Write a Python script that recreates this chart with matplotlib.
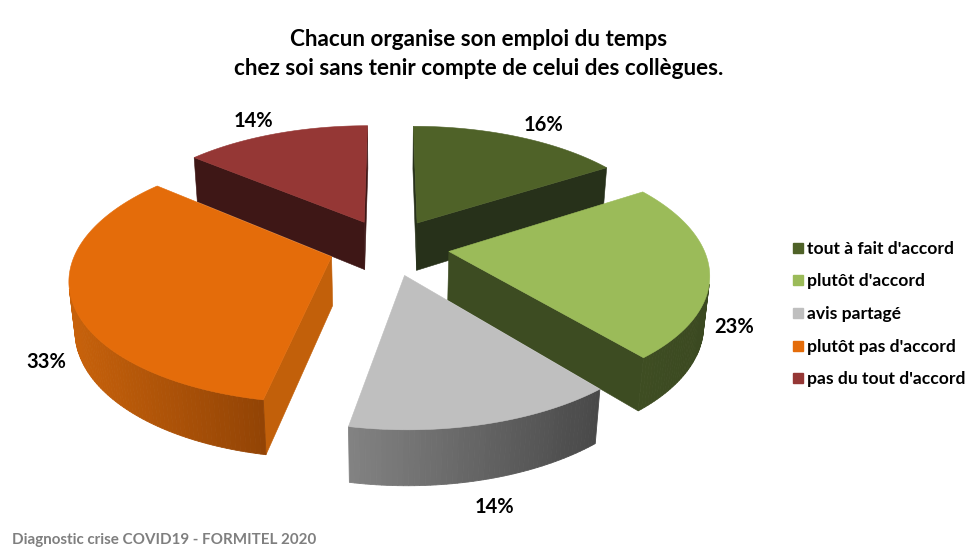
import numpy as np
import matplotlib.pyplot as plt
from matplotlib.patches import Polygon
from matplotlib.lines import Line2D

plt.rcParams['font.family'] = ['Lato', 'DejaVu Sans']

# données
categories = ["tout à fait d'accord", "plutôt d'accord", "avis partagé",
              "plutôt pas d'accord", "pas du tout d'accord"]
values = [16, 23, 14, 33, 14]
title_lines = ["Chacun organise son emploi du temps",
               "chez soi sans tenir compte de celui des collègues."]
source = "Diagnostic crise COVID19 - FORMITEL 2020"

# styles
top_colors = ["#4F6228", "#9BBB59", "#BFBFBF", "#E46C0A", "#953735"]
side_colors = ["#27311A", "#3D4C22", "#5E5E5E", "#C2600A", "#3E1716"]
wall_left = ["#27311A", "#3E4D22", "#828282", "#C8620B", "#3E1716"]
wall_right = ["#27311A", "#3B4921", "#494949", "#934405", "#3E1716"]

# vue 3D (camera) en pixels
tilt = np.radians(28.0)
D, F = 5.5, 1398.0
cx, cy = 389.0, 247.0
explode, h = 0.237, 0.22
cam = np.array([0.0, -D * np.cos(tilt), D * np.sin(tilt)])


def project(X, Y, Z):
    depth = D + Y * np.cos(tilt) - Z * np.sin(tilt)
    sx = cx + F * X / depth
    sy = cy - F * (Y * np.sin(tilt) + Z * np.cos(tilt)) / depth
    return sx, sy


def visible(normal, point):
    return np.dot(normal, cam - point) > 0


def mix(c1, c2, t):
    a = np.array(plt.matplotlib.colors.to_rgb(c1))
    b = np.array(plt.matplotlib.colors.to_rgb(c2))
    return tuple(a + (b - a) * t)


fig = plt.figure(figsize=(9.73, 5.54), dpi=100)
ax = fig.add_axes([0, 0, 1, 1])
ax.set_xlim(0, 973)
ax.set_ylim(554, 0)
ax.axis('off')

total = float(sum(values))
cum = np.concatenate([[0], np.cumsum(values)]) / total
starts = np.radians(90 - 360 * cum[:-1])
ends = np.radians(90 - 360 * cum[1:])
mids = (starts + ends) / 2

# ordre de dessin : du fond vers l'avant
ordre = np.argsort(-np.sin(mids))

for i in ordre:
    a0, a1 = ends[i], starts[i]   # a0 < a1 (sens trigo)
    ox, oy = explode * np.cos(mids[i]), explode * np.sin(mids[i])
    n = max(int(np.degrees(a1 - a0)), 2) + 1
    phi = np.linspace(a0, a1, n)
    rx, ry = ox + np.cos(phi), oy + np.sin(phi)

    # faces radiales
    for ang, sgn in [(a0, 1), (a1, -1)]:
        normal = np.array([sgn * np.sin(ang), -sgn * np.cos(ang), 0])
        p = np.array([ox + np.cos(ang), oy + np.sin(ang), 0])
        if visible(normal, p):
            pts = [project(ox, oy, 0), project(p[0], p[1], 0),
                   project(p[0], p[1], -h), project(ox, oy, -h)]
            ax.add_patch(Polygon(pts, closed=True, facecolor=side_colors[i],
                                 edgecolor=side_colors[i], lw=0.4))

    # paroi extérieure (dégradé horizontal)
    quads = []
    for k in range(n - 1):
        pm = (phi[k] + phi[k + 1]) / 2
        normal = np.array([np.cos(pm), np.sin(pm), 0])
        p = np.array([ox + np.cos(pm), oy + np.sin(pm), 0])
        if visible(normal, p):
            q = [project(rx[k], ry[k], 0), project(rx[k + 1], ry[k + 1], 0),
                 project(rx[k + 1], ry[k + 1], -h), project(rx[k], ry[k], -h)]
            quads.append(q)
    if quads:
        xs = [np.mean([pt[0] for pt in q]) for q in quads]
        x0, x1 = min(xs), max(xs)
        for q, xm in zip(quads, xs):
            t = 0 if x1 == x0 else (xm - x0) / (x1 - x0)
            c = mix(wall_left[i], wall_right[i], t)
            ax.add_patch(Polygon(q, closed=True, facecolor=c, edgecolor=c, lw=0.6))

    # dessus
    top = [project(ox, oy, 0)] + [project(x, y, 0) for x, y in zip(rx, ry)]
    ax.add_patch(Polygon(top, closed=True, facecolor=top_colors[i],
                         edgecolor=top_colors[i], lw=0.4))

# étiquettes de pourcentage
for i in range(len(values)):
    m = mids[i]
    ox, oy = explode * np.cos(m), explode * np.sin(m)
    if np.sin(m) > 0:
        r, z = 1.3, -0.05
    else:
        r, z = 1.12, -h - 0.02
    lx, ly = project(ox + r * np.cos(m), oy + r * np.sin(m), z)
    ax.text(lx, ly, f"{values[i]}%", ha='center', va='center',
            fontsize=14.5, fontweight='bold', color='black')

# titre
fig.text(0.492, 0.928, title_lines[0], ha='center', va='center',
         fontsize=16.2, fontweight='bold')
fig.text(0.492, 0.877, title_lines[1], ha='center', va='center',
         fontsize=16.2, fontweight='bold')

# légende
handles = [Line2D([], [], marker='s', linestyle='none', markersize=7,
                  markerfacecolor=c, markeredgecolor=c) for c in top_colors]
fig.legend(handles, categories, loc='center left', bbox_to_anchor=(0.798, 0.433),
           frameon=False, prop={'size': 12.6, 'weight': 'bold'},
           handletextpad=0.15, labelspacing=0.95, handlelength=0.7)

# source
fig.text(0.012, 0.025, source, ha='left', va='center', fontsize=10.9,
         fontweight='bold', color='#7F7F7F')

fig.savefig("out.png", dpi=100)
